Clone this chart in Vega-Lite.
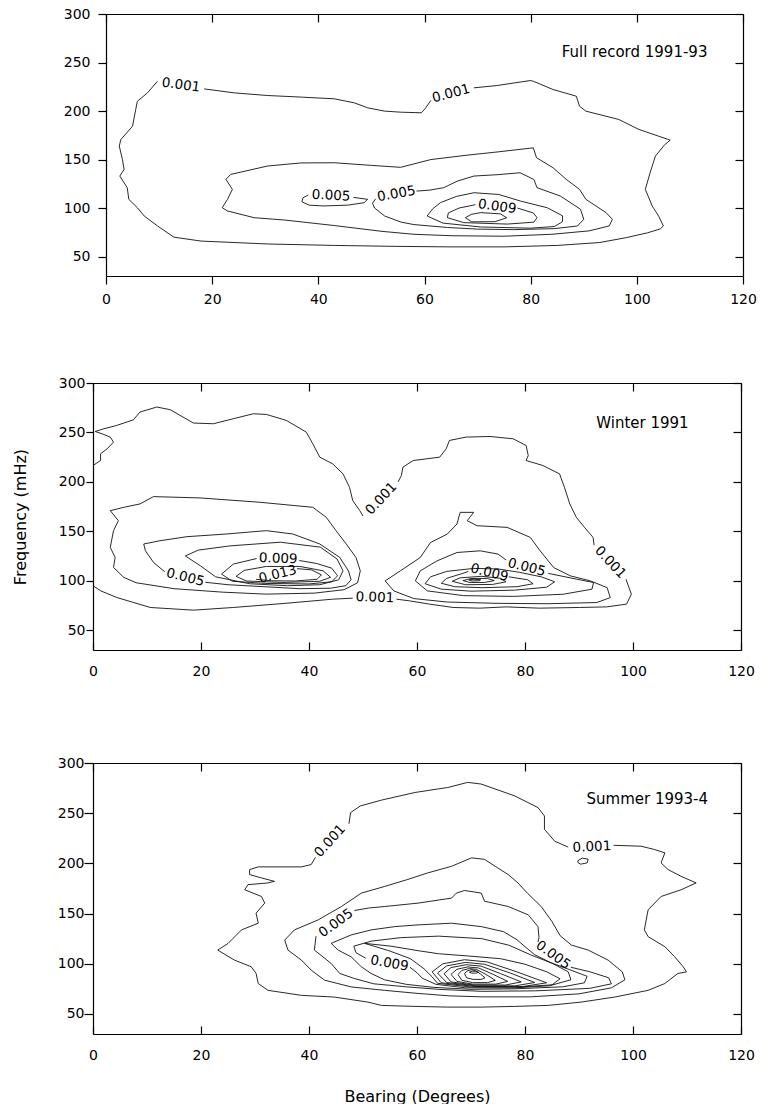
{
"$schema":"https://vega.github.io/schema/vega-lite/v6.json",
"padding":{"left":12,"top":7,"right":0,"bottom":0},
"spacing":70,
"config":{"view":{"stroke":null},"font":"DejaVu Sans",
"axis":{"domainColor":"#000","tickColor":"#000","labelColor":"#000","titleColor":"#000","domainWidth":1.2,"tickWidth":1.2,"labelFont":"DejaVu Sans","labelFontSize":14,"titleFont":"DejaVu Sans","titleFontSize":16,"titleFontWeight":"normal","grid":false,"labelFlush":false,"labelOverlap":false},
"text":{"font":"DejaVu Sans","fontSize":13.5,"color":"#000"}},
"datasets":{
"h":[{"p":1,"t":"Full record 1991-93","x":113.3,"y":261},{"p":2,"t":"Winter 1991","x":110.3,"y":259.6},{"p":3,"t":"Summer 1993-4","x":113.9,"y":263.9}],
"l":[
{"k":"1a","p":1,"t":"0.001","x":14.1,"y":226.7},{"k":"1b","p":1,"t":"0.001","x":65,"y":218},{"k":"1c","p":1,"t":"0.005","x":42.4,"y":112.8},{"k":"1d","p":1,"t":"0.005","x":54.7,"y":114.5},{"k":"1e","p":1,"t":"0.009","x":73.7,"y":101.5},
{"k":"2a","p":2,"t":"0.001","x":53.4,"y":183},{"k":"2b","p":2,"t":"0.001","x":95.8,"y":118.5},{"k":"2c","p":2,"t":"0.001","x":52.2,"y":83},{"k":"2d","p":2,"t":"0.005","x":17.1,"y":103.3},{"k":"2e","p":2,"t":"0.009","x":34.3,"y":122.3},{"k":"2f","p":2,"t":"0.013","x":34.2,"y":106.5},{"k":"2g","p":2,"t":"0.005","x":80.3,"y":113.5},{"k":"2h","p":2,"t":"0.009","x":73.4,"y":108},
{"k":"3a","p":3,"t":"0.001","x":43.9,"y":222.3},{"k":"3b","p":3,"t":"0.001","x":92.4,"y":216.3},{"k":"3c","p":3,"t":"0.005","x":45,"y":140.4},{"k":"3d","p":3,"t":"0.005","x":85.2,"y":108.6},{"k":"3e","p":3,"t":"0.009","x":54.9,"y":100.3}],
"c":[
{"p":1,"s":"1a1","x":18.5,"y":222.8},{"p":1,"s":"1a1","x":24.2,"y":218.7},{"p":1,"s":"1a1","x":30.4,"y":216},{"p":1,"s":"1a1","x":37,"y":214.3},{"p":1,"s":"1a1","x":43,"y":212.6},{"p":1,"s":"1a1","x":46.8,"y":208.4},{"p":1,"s":"1a1","x":49.3,"y":203.3},{"p":1,"s":"1a1","x":52.5,"y":199.9},{"p":1,"s":"1a1","x":55.6,"y":198.8},{"p":1,"s":"1a1","x":59.4,"y":198.2},{"p":1,"s":"1a1","x":60.2,"y":203},{"p":1,"s":"1a1","x":61.2,"y":211},
{"p":1,"s":"1a2","x":69.3,"y":223.9},{"p":1,"s":"1a2","x":73.7,"y":226.3},{"p":1,"s":"1a2","x":79.9,"y":231.4},{"p":1,"s":"1a2","x":80.5,"y":230.7},{"p":1,"s":"1a2","x":84.2,"y":222.2},{"p":1,"s":"1a2","x":88.6,"y":215.3},{"p":1,"s":"1a2","x":89.2,"y":205},{"p":1,"s":"1a2","x":90.4,"y":199.9},{"p":1,"s":"1a2","x":96.6,"y":191.3},{"p":1,"s":"1a2","x":100.4,"y":181},{"p":1,"s":"1a2","x":104.1,"y":174.1},{"p":1,"s":"1a2","x":106.3,"y":170},{"p":1,"s":"1a2","x":105.3,"y":165.6},{"p":1,"s":"1a2","x":103.5,"y":153.6},{"p":1,"s":"1a2","x":102.5,"y":136.4},{"p":1,"s":"1a2","x":101.6,"y":119.3},{"p":1,"s":"1a2","x":102.9,"y":102.1},{"p":1,"s":"1a2","x":104.1,"y":91.8},{"p":1,"s":"1a2","x":105,"y":81.6},{"p":1,"s":"1a2","x":104.4,"y":78.5},{"p":1,"s":"1a2","x":102,"y":74.5},{"p":1,"s":"1a2","x":98,"y":69.5},{"p":1,"s":"1a2","x":93,"y":64.5},{"p":1,"s":"1a2","x":85,"y":61.5},{"p":1,"s":"1a2","x":75,"y":60},{"p":1,"s":"1a2","x":65,"y":60},{"p":1,"s":"1a2","x":55,"y":60.5},{"p":1,"s":"1a2","x":43,"y":61.5},{"p":1,"s":"1a2","x":30.4,"y":63},{"p":1,"s":"1a2","x":17.9,"y":66},{"p":1,"s":"1a2","x":12.8,"y":70},{"p":1,"s":"1a2","x":9.7,"y":81.6},{"p":1,"s":"1a2","x":7.2,"y":91.8},{"p":1,"s":"1a2","x":5.9,"y":100.4},{"p":1,"s":"1a2","x":4.3,"y":109},{"p":1,"s":"1a2","x":4,"y":121},{"p":1,"s":"1a2","x":2.6,"y":133},{"p":1,"s":"1a2","x":3.4,"y":139.8},{"p":1,"s":"1a2","x":3.1,"y":150},{"p":1,"s":"1a2","x":2.5,"y":163.9},{"p":1,"s":"1a2","x":2.8,"y":170.7},{"p":1,"s":"1a2","x":5,"y":184.4},{"p":1,"s":"1a2","x":5.6,"y":201.6},{"p":1,"s":"1a2","x":5.9,"y":210},{"p":1,"s":"1a2","x":7.8,"y":218.7},{"p":1,"s":"1a2","x":9.7,"y":230.7},
{"p":1,"s":"1b","x":22.6,"y":129.6},{"p":1,"s":"1b","x":23.5,"y":134.7},{"p":1,"s":"1b","x":30.4,"y":143.3},{"p":1,"s":"1b","x":36.7,"y":146.5},{"p":1,"s":"1b","x":43,"y":146.7},{"p":1,"s":"1b","x":50,"y":144},{"p":1,"s":"1b","x":55.5,"y":142},{"p":1,"s":"1b","x":61.2,"y":150},{"p":1,"s":"1b","x":68,"y":154.5},{"p":1,"s":"1b","x":74,"y":158},{"p":1,"s":"1b","x":80.5,"y":162.1},{"p":1,"s":"1b","x":81.1,"y":151.9},{"p":1,"s":"1b","x":84.2,"y":141.6},{"p":1,"s":"1b","x":86.7,"y":129.6},{"p":1,"s":"1b","x":89.2,"y":119.3},{"p":1,"s":"1b","x":90.4,"y":109},{"p":1,"s":"1b","x":94.2,"y":95.3},{"p":1,"s":"1b","x":95.4,"y":88.4},{"p":1,"s":"1b","x":94.8,"y":81.6},{"p":1,"s":"1b","x":91,"y":76.5},{"p":1,"s":"1b","x":84,"y":73},{"p":1,"s":"1b","x":75,"y":71},{"p":1,"s":"1b","x":65,"y":71.5},{"p":1,"s":"1b","x":58,"y":73},{"p":1,"s":"1b","x":52,"y":76},{"p":1,"s":"1b","x":43,"y":82},{"p":1,"s":"1b","x":33.6,"y":87.7},{"p":1,"s":"1b","x":27.9,"y":90.1},{"p":1,"s":"1b","x":22.9,"y":97},{"p":1,"s":"1b","x":21.9,"y":100.4},{"p":1,"s":"1b","x":22.9,"y":109.1},{"p":1,"s":"1b","x":23.8,"y":119.3},{"p":1,"s":"1b","x":22.6,"y":129.6},
{"p":1,"s":"1c","x":46.6,"y":111},{"p":1,"s":"1c","x":49.3,"y":109},{"p":1,"s":"1c","x":48.6,"y":105.5},{"p":1,"s":"1c","x":45.5,"y":103},{"p":1,"s":"1c","x":41,"y":102.2},{"p":1,"s":"1c","x":38.3,"y":103},{"p":1,"s":"1c","x":36.9,"y":106.5},{"p":1,"s":"1c","x":37.1,"y":110.5},{"p":1,"s":"1c","x":38.1,"y":113.5},
{"p":1,"s":"1d","x":58.5,"y":117.5},{"p":1,"s":"1d","x":61,"y":118.5},{"p":1,"s":"1d","x":63.6,"y":121},{"p":1,"s":"1d","x":66.2,"y":127.8},{"p":1,"s":"1d","x":69.3,"y":133},{"p":1,"s":"1d","x":74,"y":134.5},{"p":1,"s":"1d","x":78,"y":136.4},{"p":1,"s":"1d","x":80.6,"y":129.5},{"p":1,"s":"1d","x":81.2,"y":121},{"p":1,"s":"1d","x":85.6,"y":112.4},{"p":1,"s":"1d","x":89.4,"y":98.7},{"p":1,"s":"1d","x":90,"y":88.4},{"p":1,"s":"1d","x":88.8,"y":81.5},{"p":1,"s":"1d","x":84.4,"y":78.8},{"p":1,"s":"1d","x":76.8,"y":77.8},{"p":1,"s":"1d","x":70,"y":78.3},{"p":1,"s":"1d","x":64.3,"y":80},{"p":1,"s":"1d","x":58,"y":83},{"p":1,"s":"1d","x":55.6,"y":85.5},{"p":1,"s":"1d","x":52.5,"y":91.8},{"p":1,"s":"1d","x":50.6,"y":100},{"p":1,"s":"1d","x":50.2,"y":105},{"p":1,"s":"1d","x":50.8,"y":109.5},
{"p":1,"s":"1e","x":60.5,"y":91.8},{"p":1,"s":"1e","x":61.5,"y":99},{"p":1,"s":"1e","x":63,"y":105.6},{"p":1,"s":"1e","x":66,"y":112},{"p":1,"s":"1e","x":69.3,"y":115.8},{"p":1,"s":"1e","x":74,"y":114},{"p":1,"s":"1e","x":78.1,"y":107.2},{"p":1,"s":"1e","x":83.1,"y":100.4},{"p":1,"s":"1e","x":86,"y":92},{"p":1,"s":"1e","x":86,"y":86},{"p":1,"s":"1e","x":84.5,"y":81},{"p":1,"s":"1e","x":80,"y":79.3},{"p":1,"s":"1e","x":70.6,"y":80.5},{"p":1,"s":"1e","x":63.5,"y":84.5},{"p":1,"s":"1e","x":60.5,"y":91.8},
{"p":1,"s":"1f","x":77.5,"y":100},{"p":1,"s":"1f","x":80.5,"y":95},{"p":1,"s":"1f","x":81.2,"y":90.1},{"p":1,"s":"1f","x":80.6,"y":85.5},{"p":1,"s":"1f","x":75.6,"y":83.5},{"p":1,"s":"1f","x":67.4,"y":85},{"p":1,"s":"1f","x":64.3,"y":90.1},{"p":1,"s":"1f","x":64.5,"y":95},{"p":1,"s":"1f","x":66.5,"y":100},{"p":1,"s":"1f","x":69.6,"y":103.5},
{"p":1,"s":"1g","x":67.7,"y":90.1},{"p":1,"s":"1g","x":68.8,"y":93.5},{"p":1,"s":"1g","x":70.6,"y":95.3},{"p":1,"s":"1g","x":74.3,"y":94},{"p":1,"s":"1g","x":75.5,"y":90},{"p":1,"s":"1g","x":73.3,"y":86},{"p":1,"s":"1g","x":68.9,"y":85.8},{"p":1,"s":"1g","x":67.7,"y":90.1},
{"p":2,"s":"2a1","x":0,"y":216.6},{"p":2,"s":"2a1","x":1.4,"y":221.6},{"p":2,"s":"2a1","x":1.4,"y":228.4},{"p":2,"s":"2a1","x":2.6,"y":233.4},{"p":2,"s":"2a1","x":3.8,"y":240.2},{"p":2,"s":"2a1","x":3.2,"y":245.3},{"p":2,"s":"2a1","x":1.7,"y":248.6},{"p":2,"s":"2a1","x":0.4,"y":251},{"p":2,"s":"2a1","x":2,"y":253.7},{"p":2,"s":"2a1","x":4.4,"y":257.1},{"p":2,"s":"2a1","x":7.5,"y":262.8},{"p":2,"s":"2a1","x":8.7,"y":270.6},{"p":2,"s":"2a1","x":11.8,"y":275.7},{"p":2,"s":"2a1","x":14.3,"y":273},{"p":2,"s":"2a1","x":18.6,"y":259.5},{"p":2,"s":"2a1","x":22.3,"y":258.8},{"p":2,"s":"2a1","x":26,"y":263.9},{"p":2,"s":"2a1","x":29.7,"y":268.9},{"p":2,"s":"2a1","x":32.1,"y":268.2},{"p":2,"s":"2a1","x":35.8,"y":262.2},{"p":2,"s":"2a1","x":39.5,"y":250.3},{"p":2,"s":"2a1","x":40.7,"y":238.5},{"p":2,"s":"2a1","x":42,"y":225},{"p":2,"s":"2a1","x":44.4,"y":218.2},{"p":2,"s":"2a1","x":46.3,"y":208.1},{"p":2,"s":"2a1","x":47.5,"y":194.6},{"p":2,"s":"2a1","x":48.1,"y":181.1},{"p":2,"s":"2a1","x":49.4,"y":171},{"p":2,"s":"2a1","x":50,"y":165.5},
{"p":2,"s":"2a2","x":56.5,"y":200},{"p":2,"s":"2a2","x":57.1,"y":206.4},{"p":2,"s":"2a2","x":57.4,"y":214.9},{"p":2,"s":"2a2","x":59.3,"y":221.6},{"p":2,"s":"2a2","x":64.2,"y":225},{"p":2,"s":"2a2","x":65.4,"y":233.4},{"p":2,"s":"2a2","x":66,"y":241.9},{"p":2,"s":"2a2","x":69.1,"y":245.3},{"p":2,"s":"2a2","x":73.5,"y":245.9},{"p":2,"s":"2a2","x":77.8,"y":243.6},{"p":2,"s":"2a2","x":80.2,"y":236.8},{"p":2,"s":"2a2","x":80.6,"y":226.7},{"p":2,"s":"2a2","x":80.2,"y":221.6},{"p":2,"s":"2a2","x":83.3,"y":216.6},{"p":2,"s":"2a2","x":86.4,"y":208.1},{"p":2,"s":"2a2","x":87.3,"y":194.6},{"p":2,"s":"2a2","x":88.3,"y":177.7},{"p":2,"s":"2a2","x":89.5,"y":164.2},{"p":2,"s":"2a2","x":91,"y":154.1},{"p":2,"s":"2a2","x":92.6,"y":143.9},{"p":2,"s":"2a2","x":92.8,"y":136},
{"p":2,"s":"2a3","x":98.7,"y":101.5},{"p":2,"s":"2a3","x":99.7,"y":86.5},{"p":2,"s":"2a3","x":98.8,"y":76.4},{"p":2,"s":"2a3","x":95.1,"y":73.6},{"p":2,"s":"2a3","x":90.1,"y":73},{"p":2,"s":"2a3","x":82.7,"y":72.3},{"p":2,"s":"2a3","x":76.5,"y":73.6},{"p":2,"s":"2a3","x":71.6,"y":72.3},{"p":2,"s":"2a3","x":66.7,"y":73},{"p":2,"s":"2a3","x":62.3,"y":76.4},{"p":2,"s":"2a3","x":58.6,"y":79.7},{"p":2,"s":"2a3","x":56.2,"y":81.4},
{"p":2,"s":"2a4","x":48.1,"y":82.4},{"p":2,"s":"2a4","x":44.4,"y":81.4},{"p":2,"s":"2a4","x":35.2,"y":77},{"p":2,"s":"2a4","x":26,"y":73},{"p":2,"s":"2a4","x":18.6,"y":70.3},{"p":2,"s":"2a4","x":10.6,"y":73},{"p":2,"s":"2a4","x":4.4,"y":83.1},{"p":2,"s":"2a4","x":1.4,"y":89.9},{"p":2,"s":"2a4","x":0,"y":95},
{"p":2,"s":"2b","x":3.2,"y":170.9},{"p":2,"s":"2b","x":5.7,"y":174.3},{"p":2,"s":"2b","x":8.7,"y":177.7},{"p":2,"s":"2b","x":11.2,"y":185.1},{"p":2,"s":"2b","x":19.8,"y":183.8},{"p":2,"s":"2b","x":30.9,"y":179.4},{"p":2,"s":"2b","x":40.7,"y":174.3},{"p":2,"s":"2b","x":43.2,"y":164.2},{"p":2,"s":"2b","x":45,"y":150.7},{"p":2,"s":"2b","x":46.9,"y":137.2},{"p":2,"s":"2b","x":48.7,"y":123.6},{"p":2,"s":"2b","x":49.5,"y":110},{"p":2,"s":"2b","x":49,"y":98},{"p":2,"s":"2b","x":46.5,"y":91},{"p":2,"s":"2b","x":41,"y":87.5},{"p":2,"s":"2b","x":32,"y":86.5},{"p":2,"s":"2b","x":24,"y":88.5},{"p":2,"s":"2b","x":15,"y":92},{"p":2,"s":"2b","x":8,"y":98},{"p":2,"s":"2b","x":5.7,"y":103.4},{"p":2,"s":"2b","x":3.8,"y":113.5},{"p":2,"s":"2b","x":4.1,"y":123.6},{"p":2,"s":"2b","x":3.2,"y":133.8},{"p":2,"s":"2b","x":3.8,"y":150.7},{"p":2,"s":"2b","x":4.7,"y":160.8},{"p":2,"s":"2b","x":3.2,"y":170.9},
{"p":2,"s":"2c","x":20.8,"y":98.5},{"p":2,"s":"2c","x":25,"y":96},{"p":2,"s":"2c","x":30,"y":94.5},{"p":2,"s":"2c","x":38.3,"y":92},{"p":2,"s":"2c","x":44,"y":92.5},{"p":2,"s":"2c","x":46.8,"y":95},{"p":2,"s":"2c","x":47.8,"y":101},{"p":2,"s":"2c","x":47.3,"y":110.1},{"p":2,"s":"2c","x":45.7,"y":123.6},{"p":2,"s":"2c","x":42,"y":137.2},{"p":2,"s":"2c","x":37,"y":147.3},{"p":2,"s":"2c","x":32.1,"y":150.7},{"p":2,"s":"2c","x":24.7,"y":147.3},{"p":2,"s":"2c","x":17.4,"y":144.6},{"p":2,"s":"2c","x":12.4,"y":140.5},{"p":2,"s":"2c","x":9.4,"y":137.2},{"p":2,"s":"2c","x":9.7,"y":130.4},{"p":2,"s":"2c","x":11.2,"y":118.6},{"p":2,"s":"2c","x":13.3,"y":109},
{"p":2,"s":"2d","x":17.1,"y":125.1},{"p":2,"s":"2d","x":19.5,"y":131},{"p":2,"s":"2d","x":25.4,"y":135.3},{"p":2,"s":"2d","x":34.7,"y":139},{"p":2,"s":"2d","x":42.1,"y":134},{"p":2,"s":"2d","x":45.2,"y":122},{"p":2,"s":"2d","x":46.3,"y":110},{"p":2,"s":"2d","x":45.5,"y":101},{"p":2,"s":"2d","x":42,"y":96},{"p":2,"s":"2d","x":36,"y":95},{"p":2,"s":"2d","x":29,"y":97},{"p":2,"s":"2d","x":22.7,"y":104},{"p":2,"s":"2d","x":19.9,"y":115.1},{"p":2,"s":"2d","x":17.1,"y":125.1},
{"p":2,"s":"2e","x":38.2,"y":120.5},{"p":2,"s":"2e","x":41.4,"y":117.5},{"p":2,"s":"2e","x":44.2,"y":112.8},{"p":2,"s":"2e","x":45.3,"y":105},{"p":2,"s":"2e","x":44.2,"y":99},{"p":2,"s":"2e","x":40,"y":96.8},{"p":2,"s":"2e","x":32,"y":97.3},{"p":2,"s":"2e","x":25.8,"y":99.5},{"p":2,"s":"2e","x":23.8,"y":106.8},{"p":2,"s":"2e","x":26,"y":116.9},{"p":2,"s":"2e","x":30.3,"y":122.5},
{"p":2,"s":"2f","x":26.5,"y":104.5},{"p":2,"s":"2f","x":28,"y":110.5},{"p":2,"s":"2f","x":32.1,"y":114.5},{"p":2,"s":"2f","x":38.3,"y":114.5},{"p":2,"s":"2f","x":42.6,"y":110.1},{"p":2,"s":"2f","x":44,"y":103.5},{"p":2,"s":"2f","x":42,"y":99.5},{"p":2,"s":"2f","x":35.2,"y":98.3},{"p":2,"s":"2f","x":28.4,"y":99.8},{"p":2,"s":"2f","x":26.5,"y":104.5},
{"p":2,"s":"2g","x":37.8,"y":112.3},{"p":2,"s":"2g","x":40.5,"y":111},{"p":2,"s":"2g","x":42.3,"y":106},{"p":2,"s":"2g","x":41.5,"y":101.5},{"p":2,"s":"2g","x":37.5,"y":99.8},{"p":2,"s":"2g","x":33,"y":100},{"p":2,"s":"2g","x":30.2,"y":101.5},
{"p":2,"s":"2i","x":54.1,"y":99.9},{"p":2,"s":"2i","x":56.9,"y":110},{"p":2,"s":"2i","x":60.6,"y":123.5},{"p":2,"s":"2i","x":62.5,"y":138.7},{"p":2,"s":"2i","x":65.6,"y":147.2},{"p":2,"s":"2i","x":67.4,"y":157.4},{"p":2,"s":"2i","x":68,"y":169.2},{"p":2,"s":"2i","x":70.5,"y":169.2},{"p":2,"s":"2i","x":69.3,"y":160.8},{"p":2,"s":"2i","x":71.1,"y":155.7},{"p":2,"s":"2i","x":76.7,"y":154},{"p":2,"s":"2i","x":81,"y":143.8},{"p":2,"s":"2i","x":82.8,"y":130.3},{"p":2,"s":"2i","x":85.3,"y":113.4},{"p":2,"s":"2i","x":88.4,"y":105},{"p":2,"s":"2i","x":92.1,"y":99.9},{"p":2,"s":"2i","x":95.2,"y":93.1},{"p":2,"s":"2i","x":95.8,"y":83},{"p":2,"s":"2i","x":93.3,"y":78},{"p":2,"s":"2i","x":84.1,"y":76.8},{"p":2,"s":"2i","x":74.8,"y":77.2},{"p":2,"s":"2i","x":65.6,"y":78.5},{"p":2,"s":"2i","x":59.4,"y":82},{"p":2,"s":"2i","x":55.7,"y":89.8},{"p":2,"s":"2i","x":54.1,"y":99.9},
{"p":2,"s":"2j","x":84.3,"y":107.5},{"p":2,"s":"2j","x":89.6,"y":101.6},{"p":2,"s":"2j","x":92.7,"y":98.2},{"p":2,"s":"2j","x":92.4,"y":91.5},{"p":2,"s":"2j","x":87.1,"y":86.4},{"p":2,"s":"2j","x":77.9,"y":84.2},{"p":2,"s":"2j","x":68.6,"y":85},{"p":2,"s":"2j","x":61.9,"y":89.8},{"p":2,"s":"2j","x":59.7,"y":99.9},{"p":2,"s":"2j","x":60.6,"y":110},{"p":2,"s":"2j","x":63.7,"y":120.1},{"p":2,"s":"2j","x":67.4,"y":128.6},{"p":2,"s":"2j","x":71.7,"y":130.3},{"p":2,"s":"2j","x":75,"y":127},{"p":2,"s":"2j","x":76.5,"y":121},
{"p":2,"s":"2k","x":61.5,"y":97},{"p":2,"s":"2k","x":62.5,"y":104},{"p":2,"s":"2k","x":65.5,"y":109.5},{"p":2,"s":"2k","x":70.5,"y":112.5},{"p":2,"s":"2k","x":75,"y":112},{"p":2,"s":"2k","x":79,"y":108.5},{"p":2,"s":"2k","x":83,"y":104},{"p":2,"s":"2k","x":85.5,"y":99},{"p":2,"s":"2k","x":84,"y":93.5},{"p":2,"s":"2k","x":78,"y":90.5},{"p":2,"s":"2k","x":70,"y":89.5},{"p":2,"s":"2k","x":64.5,"y":91.5},{"p":2,"s":"2k","x":61.5,"y":97},
{"p":2,"s":"2l","x":77,"y":104},{"p":2,"s":"2l","x":80.5,"y":101},{"p":2,"s":"2l","x":81.5,"y":97},{"p":2,"s":"2l","x":78.5,"y":94},{"p":2,"s":"2l","x":72,"y":93},{"p":2,"s":"2l","x":67,"y":94},{"p":2,"s":"2l","x":64.5,"y":97.5},{"p":2,"s":"2l","x":65.5,"y":102.5},{"p":2,"s":"2l","x":68.5,"y":107.5},{"p":2,"s":"2l","x":69.5,"y":109.5},
{"p":2,"s":"2m","x":66.5,"y":99.5},{"p":2,"s":"2m","x":68,"y":103},{"p":2,"s":"2m","x":72,"y":104.5},{"p":2,"s":"2m","x":75.5,"y":102.5},{"p":2,"s":"2m","x":76.5,"y":99},{"p":2,"s":"2m","x":74,"y":96.3},{"p":2,"s":"2m","x":69,"y":96},{"p":2,"s":"2m","x":66.5,"y":99.5},
{"p":2,"s":"2n","x":68.5,"y":100.2},{"p":2,"s":"2n","x":70,"y":102.3},{"p":2,"s":"2n","x":73,"y":102.4},{"p":2,"s":"2n","x":74.3,"y":100.2},{"p":2,"s":"2n","x":72.5,"y":98.3},{"p":2,"s":"2n","x":69.8,"y":98.3},{"p":2,"s":"2n","x":68.5,"y":100.2},
{"p":2,"s":"2o","x":69.6,"y":100.8},{"p":2,"s":"2o","x":70.5,"y":101.5},{"p":2,"s":"2o","x":71.8,"y":101.1},{"p":2,"s":"2o","x":71.5,"y":100},{"p":2,"s":"2o","x":70.2,"y":99.8},{"p":2,"s":"2o","x":69.6,"y":100.8},
{"p":3,"s":"3a1","x":47.4,"y":239.5},{"p":3,"s":"3a1","x":47.7,"y":250.6},{"p":3,"s":"3a1","x":49.5,"y":257.2},{"p":3,"s":"3a1","x":53.4,"y":263},{"p":3,"s":"3a1","x":59.6,"y":270.6},{"p":3,"s":"3a1","x":65.7,"y":275.6},{"p":3,"s":"3a1","x":69.4,"y":280.7},{"p":3,"s":"3a1","x":71.9,"y":279},{"p":3,"s":"3a1","x":78.1,"y":267.2},{"p":3,"s":"3a1","x":82.4,"y":255.6},{"p":3,"s":"3a1","x":83.6,"y":247.2},{"p":3,"s":"3a1","x":83.6,"y":233.9},{"p":3,"s":"3a1","x":85.5,"y":222.1},{"p":3,"s":"3a1","x":88,"y":216.2},
{"p":3,"s":"3a2","x":96.4,"y":218},{"p":3,"s":"3a2","x":101.5,"y":217.1},{"p":3,"s":"3a2","x":104,"y":213.8},{"p":3,"s":"3a2","x":105.9,"y":210.5},{"p":3,"s":"3a2","x":105.2,"y":200.5},{"p":3,"s":"3a2","x":106.5,"y":193.8},{"p":3,"s":"3a2","x":108.9,"y":187.1},{"p":3,"s":"3a2","x":111.7,"y":180.5},{"p":3,"s":"3a2","x":108.9,"y":173.7},{"p":3,"s":"3a2","x":105.2,"y":167},{"p":3,"s":"3a2","x":102.8,"y":153.7},{"p":3,"s":"3a2","x":102.1,"y":133.7},{"p":3,"s":"3a2","x":102.8,"y":127},{"p":3,"s":"3a2","x":105.9,"y":117},{"p":3,"s":"3a2","x":107.7,"y":107},{"p":3,"s":"3a2","x":109.3,"y":97},{"p":3,"s":"3a2","x":109.9,"y":91.9},{"p":3,"s":"3a2","x":108.3,"y":90.3},{"p":3,"s":"3a2","x":105.9,"y":80.3},{"p":3,"s":"3a2","x":102.8,"y":73.5},{"p":3,"s":"3a2","x":96.6,"y":66.8},{"p":3,"s":"3a2","x":90.4,"y":61.8},{"p":3,"s":"3a2","x":84.3,"y":58.5},{"p":3,"s":"3a2","x":78.1,"y":57.5},{"p":3,"s":"3a2","x":71.9,"y":56.8},{"p":3,"s":"3a2","x":65.7,"y":56.8},{"p":3,"s":"3a2","x":59.6,"y":57.5},{"p":3,"s":"3a2","x":53.4,"y":58.5},{"p":3,"s":"3a2","x":50.9,"y":61.8},{"p":3,"s":"3a2","x":44.7,"y":66.8},{"p":3,"s":"3a2","x":38.6,"y":68.5},{"p":3,"s":"3a2","x":32.4,"y":73.5},{"p":3,"s":"3a2","x":30.6,"y":80.3},{"p":3,"s":"3a2","x":30.2,"y":90.3},{"p":3,"s":"3a2","x":29.3,"y":97},{"p":3,"s":"3a2","x":26.2,"y":103.6},{"p":3,"s":"3a2","x":23.1,"y":113.6},{"p":3,"s":"3a2","x":25,"y":120.2},{"p":3,"s":"3a2","x":27.5,"y":133.7},{"p":3,"s":"3a2","x":30.6,"y":140.4},{"p":3,"s":"3a2","x":30.2,"y":150.4},{"p":3,"s":"3a2","x":31.8,"y":160.4},{"p":3,"s":"3a2","x":31.2,"y":167},{"p":3,"s":"3a2","x":28.1,"y":173.7},{"p":3,"s":"3a2","x":28.7,"y":178.8},{"p":3,"s":"3a2","x":32.4,"y":180.5},{"p":3,"s":"3a2","x":33.6,"y":182.1},{"p":3,"s":"3a2","x":31.2,"y":185.5},{"p":3,"s":"3a2","x":29,"y":188.8},{"p":3,"s":"3a2","x":29,"y":193.8},{"p":3,"s":"3a2","x":30.6,"y":196.5},{"p":3,"s":"3a2","x":38.6,"y":196.5},{"p":3,"s":"3a2","x":40.4,"y":198.8},{"p":3,"s":"3a2","x":41.2,"y":206},
{"p":3,"s":"3t","x":89.8,"y":202.8},{"p":3,"s":"3t","x":90.6,"y":205.2},{"p":3,"s":"3t","x":91.7,"y":204.2},{"p":3,"s":"3t","x":91.5,"y":200.5},{"p":3,"s":"3t","x":90.3,"y":199.2},{"p":3,"s":"3t","x":89.8,"y":200.8},{"p":3,"s":"3t","x":89.8,"y":202.8},
{"p":3,"s":"3b","x":72.5,"y":204},{"p":3,"s":"3b","x":70.1,"y":205.5},{"p":3,"s":"3b","x":66.4,"y":197.1},{"p":3,"s":"3b","x":62,"y":190.5},{"p":3,"s":"3b","x":58.3,"y":184},{"p":3,"s":"3b","x":54,"y":177},{"p":3,"s":"3b","x":49.7,"y":170.4},{"p":3,"s":"3b","x":46,"y":157},{"p":3,"s":"3b","x":41.7,"y":143.7},{"p":3,"s":"3b","x":37.3,"y":133.7},{"p":3,"s":"3b","x":35.5,"y":123.6},{"p":3,"s":"3b","x":36.1,"y":113.6},{"p":3,"s":"3b","x":38.6,"y":103.6},{"p":3,"s":"3b","x":40.4,"y":93.6},{"p":3,"s":"3b","x":42.9,"y":83.6},{"p":3,"s":"3b","x":47.8,"y":76.9},{"p":3,"s":"3b","x":54,"y":73.5},{"p":3,"s":"3b","x":60,"y":70.5},{"p":3,"s":"3b","x":66,"y":68},{"p":3,"s":"3b","x":72,"y":67},{"p":3,"s":"3b","x":81,"y":67},{"p":3,"s":"3b","x":90,"y":70},{"p":3,"s":"3b","x":96,"y":76},{"p":3,"s":"3b","x":98.5,"y":84},{"p":3,"s":"3b","x":98,"y":92},{"p":3,"s":"3b","x":95.4,"y":103.6},{"p":3,"s":"3b","x":91.7,"y":113.6},{"p":3,"s":"3b","x":88.6,"y":118.6},{"p":3,"s":"3b","x":86.5,"y":128},{"p":3,"s":"3b","x":85,"y":142},{"p":3,"s":"3b","x":83,"y":157},{"p":3,"s":"3b","x":80.5,"y":170},{"p":3,"s":"3b","x":78.7,"y":180.5},{"p":3,"s":"3b","x":76.9,"y":188.8},{"p":3,"s":"3b","x":74.5,"y":197},{"p":3,"s":"3b","x":72.5,"y":204},
{"p":3,"s":"3c1","x":48.4,"y":153},{"p":3,"s":"3c1","x":51,"y":155.5},{"p":3,"s":"3c1","x":54,"y":157},{"p":3,"s":"3c1","x":60.2,"y":160.4},{"p":3,"s":"3c1","x":66.4,"y":165.4},{"p":3,"s":"3c1","x":67.3,"y":170.4},{"p":3,"s":"3c1","x":68.8,"y":173},{"p":3,"s":"3c1","x":71.9,"y":170.4},{"p":3,"s":"3c1","x":72.5,"y":162.3},{"p":3,"s":"3c1","x":76.9,"y":157},{"p":3,"s":"3c1","x":80.6,"y":148.7},{"p":3,"s":"3c1","x":82.4,"y":137},{"p":3,"s":"3c1","x":82.6,"y":126},{"p":3,"s":"3c1","x":82.4,"y":121.5},
{"p":3,"s":"3c2","x":88.5,"y":96.5},{"p":3,"s":"3c2","x":92,"y":92},{"p":3,"s":"3c2","x":95.5,"y":86},{"p":3,"s":"3c2","x":96,"y":80},{"p":3,"s":"3c2","x":92,"y":75.5},{"p":3,"s":"3c2","x":82,"y":73},{"p":3,"s":"3c2","x":72,"y":72.5},{"p":3,"s":"3c2","x":64,"y":74.5},{"p":3,"s":"3c2","x":58,"y":77},{"p":3,"s":"3c2","x":52,"y":80},{"p":3,"s":"3c2","x":48.4,"y":85.3},{"p":3,"s":"3c2","x":45.7,"y":90.3},{"p":3,"s":"3c2","x":44.1,"y":100.3},{"p":3,"s":"3c2","x":41,"y":113.6},{"p":3,"s":"3c2","x":41.3,"y":127.5},
{"p":3,"s":"3d","x":44.1,"y":120.3},{"p":3,"s":"3d","x":47.8,"y":128.7},{"p":3,"s":"3d","x":51.5,"y":133.7},{"p":3,"s":"3d","x":55.9,"y":137},{"p":3,"s":"3d","x":60.2,"y":138.7},{"p":3,"s":"3d","x":66.4,"y":140.4},{"p":3,"s":"3d","x":71.9,"y":137},{"p":3,"s":"3d","x":76,"y":132},{"p":3,"s":"3d","x":78.5,"y":124},{"p":3,"s":"3d","x":80,"y":117},{"p":3,"s":"3d","x":81.8,"y":109},{"p":3,"s":"3d","x":84.8,"y":101},{"p":3,"s":"3d","x":88.3,"y":94},{"p":3,"s":"3d","x":91.5,"y":87.5},{"p":3,"s":"3d","x":91,"y":81},{"p":3,"s":"3d","x":87,"y":77},{"p":3,"s":"3d","x":78,"y":75},{"p":3,"s":"3d","x":70,"y":74.5},{"p":3,"s":"3d","x":63,"y":76.5},{"p":3,"s":"3d","x":58,"y":79.5},{"p":3,"s":"3d","x":54,"y":84},{"p":3,"s":"3d","x":51.5,"y":90.3},{"p":3,"s":"3d","x":49.7,"y":96.9},{"p":3,"s":"3d","x":47.8,"y":106.9},{"p":3,"s":"3d","x":45.4,"y":113.6},{"p":3,"s":"3d","x":44.1,"y":120.3},
{"p":3,"s":"3e","x":58.7,"y":96.5},{"p":3,"s":"3e","x":60,"y":91},{"p":3,"s":"3e","x":61,"y":85.5},{"p":3,"s":"3e","x":63.5,"y":79.5},{"p":3,"s":"3e","x":69,"y":76},{"p":3,"s":"3e","x":78,"y":76},{"p":3,"s":"3e","x":84.5,"y":78},{"p":3,"s":"3e","x":88.5,"y":84},{"p":3,"s":"3e","x":88,"y":92},{"p":3,"s":"3e","x":85,"y":100.5},{"p":3,"s":"3e","x":81,"y":109},{"p":3,"s":"3e","x":77,"y":118.5},{"p":3,"s":"3e","x":72,"y":125},{"p":3,"s":"3e","x":64,"y":127.5},{"p":3,"s":"3e","x":57,"y":126},{"p":3,"s":"3e","x":51.5,"y":122.5},{"p":3,"s":"3e","x":48.3,"y":117.5},{"p":3,"s":"3e","x":48.7,"y":111},{"p":3,"s":"3e","x":50.5,"y":105.5},
{"p":3,"s":"3f","x":50.3,"y":120.3},{"p":3,"s":"3f","x":55.2,"y":117.5},{"p":3,"s":"3f","x":60.2,"y":113},{"p":3,"s":"3f","x":64,"y":110},{"p":3,"s":"3f","x":70,"y":107.5},{"p":3,"s":"3f","x":75.5,"y":105},{"p":3,"s":"3f","x":80,"y":99.5},{"p":3,"s":"3f","x":84,"y":92},{"p":3,"s":"3f","x":86.5,"y":85},{"p":3,"s":"3f","x":85,"y":79},{"p":3,"s":"3f","x":79,"y":76.8},{"p":3,"s":"3f","x":70,"y":76.8},{"p":3,"s":"3f","x":63.8,"y":80.5},{"p":3,"s":"3f","x":62.8,"y":87},{"p":3,"s":"3f","x":61.3,"y":95},{"p":3,"s":"3f","x":58.8,"y":105},{"p":3,"s":"3f","x":54.8,"y":113},{"p":3,"s":"3f","x":50.3,"y":120.3},
{"p":3,"s":"3r6","x":62.8,"y":91.9},{"p":3,"s":"3r6","x":64.8,"y":100},{"p":3,"s":"3r6","x":68.8,"y":104},{"p":3,"s":"3r6","x":73,"y":101.8},{"p":3,"s":"3r6","x":78.5,"y":91.9},{"p":3,"s":"3r6","x":84,"y":81},{"p":3,"s":"3r6","x":79.6,"y":77.3},{"p":3,"s":"3r6","x":70.8,"y":77.3},{"p":3,"s":"3r6","x":64.5,"y":81},{"p":3,"s":"3r6","x":62.8,"y":91.9},
{"p":3,"s":"3r5","x":63.8,"y":90.7},{"p":3,"s":"3r5","x":65.5,"y":97.9},{"p":3,"s":"3r5","x":69,"y":101.3},{"p":3,"s":"3r5","x":72.5,"y":99.5},{"p":3,"s":"3r5","x":77.3,"y":90.7},{"p":3,"s":"3r5","x":81.8,"y":81.3},{"p":3,"s":"3r5","x":78.2,"y":78},{"p":3,"s":"3r5","x":70.9,"y":78},{"p":3,"s":"3r5","x":65.5,"y":81.3},{"p":3,"s":"3r5","x":63.8,"y":90.7},
{"p":3,"s":"3r4","x":65,"y":90.1},{"p":3,"s":"3r4","x":66.3,"y":96.2},{"p":3,"s":"3r4","x":69.1,"y":99},{"p":3,"s":"3r4","x":71.9,"y":97.6},{"p":3,"s":"3r4","x":75.5,"y":90.1},{"p":3,"s":"3r4","x":79.3,"y":81.9},{"p":3,"s":"3r4","x":76.4,"y":78.8},{"p":3,"s":"3r4","x":70.5,"y":78.8},{"p":3,"s":"3r4","x":66.3,"y":81.9},{"p":3,"s":"3r4","x":65,"y":90.1},
{"p":3,"s":"3r3","x":66.3,"y":89.4},{"p":3,"s":"3r3","x":67.4,"y":94.5},{"p":3,"s":"3r3","x":69.4,"y":96.8},{"p":3,"s":"3r3","x":71.4,"y":95.8},{"p":3,"s":"3r3","x":74.1,"y":89.4},{"p":3,"s":"3r3","x":76.8,"y":82.4},{"p":3,"s":"3r3","x":74.6,"y":79.7},{"p":3,"s":"3r3","x":70.3,"y":79.7},{"p":3,"s":"3r3","x":67.4,"y":82.4},{"p":3,"s":"3r3","x":66.3,"y":89.4},
{"p":3,"s":"3r2","x":67.6,"y":89.3},{"p":3,"s":"3r2","x":68.3,"y":93.3},{"p":3,"s":"3r2","x":69.7,"y":95.2},{"p":3,"s":"3r2","x":71,"y":94.4},{"p":3,"s":"3r2","x":72.8,"y":89.3},{"p":3,"s":"3r2","x":74.5,"y":83.5},{"p":3,"s":"3r2","x":73.1,"y":81.2},{"p":3,"s":"3r2","x":70.3,"y":81.2},{"p":3,"s":"3r2","x":68.3,"y":83.5},{"p":3,"s":"3r2","x":67.6,"y":89.3},
{"p":3,"s":"3r1","x":68.8,"y":90},{"p":3,"s":"3r1","x":69.2,"y":92.6},{"p":3,"s":"3r1","x":70,"y":94},{"p":3,"s":"3r1","x":70.8,"y":93.3},{"p":3,"s":"3r1","x":71.7,"y":90},{"p":3,"s":"3r1","x":72.6,"y":86},{"p":3,"s":"3r1","x":71.9,"y":84.4},{"p":3,"s":"3r1","x":70.4,"y":84.4},{"p":3,"s":"3r1","x":69.2,"y":86},{"p":3,"s":"3r1","x":68.8,"y":90},
{"p":3,"s":"3r0","x":69.7,"y":91.6},{"p":3,"s":"3r0","x":70.2,"y":92.6},{"p":3,"s":"3r0","x":71,"y":92.5},{"p":3,"s":"3r0","x":71.4,"y":91.5},{"p":3,"s":"3r0","x":70.9,"y":90.6},{"p":3,"s":"3r0","x":70.1,"y":90.7},{"p":3,"s":"3r0","x":69.7,"y":91.6}
]},
"vconcat":[
{"width":650,"height":262,"resolve":{"axis":{"x":"independent","y":"independent"}},
"layer":[
{"data":{"name":"c"},"transform":[{"filter":"datum.p==1"}],"mark":{"type":"line","stroke":"#111","strokeWidth":0.9,"clip":true},
"encoding":{"x":{"field":"x","type":"quantitative","scale":{"domain":[0,120],"range":[13,650],"nice":false,"zero":false},"axis":{"orient":"bottom","values":[0,20,40,60,80,100,120],"tickSize":8,"labelPadding":8,"title":null}},
"y":{"field":"y","type":"quantitative","scale":{"domain":[30,300],"nice":false,"zero":false},"axis":{"orient":"left","values":[50,100,150,200,250,300],"tickSize":8,"labelPadding":8,"offset":-13,"title":null}},
"detail":{"field":"s","type":"nominal"},"order":{"value":null}}},
{"data":{"name":"h"},"transform":[{"filter":"datum.p==1"}],"mark":{"type":"text","align":"right","baseline":"middle","fontSize":15},
"encoding":{"x":{"field":"x","type":"quantitative","scale":{"domain":[0,120],"range":[13,650],"nice":false,"zero":false},"axis":{"orient":"top","values":[0,20,40,60,80,100,120],"tickSize":-8,"labels":false,"title":null}},
"y":{"field":"y","type":"quantitative","scale":{"domain":[30,300],"nice":false,"zero":false},"axis":{"orient":"right","values":[50,100,150,200,250,300],"tickSize":-8,"labels":false,"title":null}},"text":{"field":"t"}}},
{"data":{"name":"l"},"transform":[{"filter":{"field":"k","oneOf":["1a","1e"]}}],"mark":{"type":"text","angle":8},"encoding":{"x":{"field":"x","type":"quantitative","scale":{"domain":[0,120],"range":[13,650]},"axis":null},"y":{"field":"y","type":"quantitative","scale":{"domain":[30,300]},"axis":null},"text":{"field":"t"}}},
{"data":{"name":"l"},"transform":[{"filter":{"field":"k","oneOf":["1b"]}}],"mark":{"type":"text","angle":-15},"encoding":{"x":{"field":"x","type":"quantitative","scale":{"domain":[0,120],"range":[13,650]},"axis":null},"y":{"field":"y","type":"quantitative","scale":{"domain":[30,300]},"axis":null},"text":{"field":"t"}}},
{"data":{"name":"l"},"transform":[{"filter":{"field":"k","oneOf":["1c"]}}],"mark":{"type":"text","angle":3},"encoding":{"x":{"field":"x","type":"quantitative","scale":{"domain":[0,120],"range":[13,650]},"axis":null},"y":{"field":"y","type":"quantitative","scale":{"domain":[30,300]},"axis":null},"text":{"field":"t"}}},
{"data":{"name":"l"},"transform":[{"filter":{"field":"k","oneOf":["1d"]}}],"mark":{"type":"text","angle":-10},"encoding":{"x":{"field":"x","type":"quantitative","scale":{"domain":[0,120],"range":[13,650]},"axis":null},"y":{"field":"y","type":"quantitative","scale":{"domain":[30,300]},"axis":null},"text":{"field":"t"}}}
]},
{"spacing":78,"vconcat":[
{"width":648,"height":267,"resolve":{"axis":{"x":"independent","y":"independent"}},
"layer":[
{"data":{"name":"c"},"transform":[{"filter":"datum.p==2"}],"mark":{"type":"line","stroke":"#111","strokeWidth":0.9,"clip":true},
"encoding":{"x":{"field":"x","type":"quantitative","scale":{"domain":[0,120],"nice":false,"zero":false},"axis":{"orient":"bottom","values":[0,20,40,60,80,100,120],"tickSize":-8,"labelPadding":22,"title":null}},
"y":{"field":"y","type":"quantitative","scale":{"domain":[30,300],"nice":false,"zero":false},"axis":{"orient":"left","values":[50,100,150,200,250,300],"tickSize":7,"labelPadding":1,"title":"Frequency (mHz)","titlePadding":30}},
"detail":{"field":"s","type":"nominal"},"order":{"value":null}}},
{"data":{"name":"h"},"transform":[{"filter":"datum.p==2"}],"mark":{"type":"text","align":"right","baseline":"middle","fontSize":15},
"encoding":{"x":{"field":"x","type":"quantitative","scale":{"domain":[0,120],"nice":false,"zero":false},"axis":{"orient":"top","values":[0,20,40,60,80,100,120],"tickSize":-8,"labels":false,"title":null}},
"y":{"field":"y","type":"quantitative","scale":{"domain":[30,300],"nice":false,"zero":false},"axis":{"orient":"right","values":[50,100,150,200,250,300],"tickSize":-8,"labels":false,"title":null}},"text":{"field":"t"}}},
{"data":{"name":"l"},"transform":[{"filter":{"field":"k","oneOf":["2a"]}}],"mark":{"type":"text","angle":-47},"encoding":{"x":{"field":"x","type":"quantitative","axis":null},"y":{"field":"y","type":"quantitative","axis":null},"text":{"field":"t"}}},
{"data":{"name":"l"},"transform":[{"filter":{"field":"k","oneOf":["2b"]}}],"mark":{"type":"text","angle":47},"encoding":{"x":{"field":"x","type":"quantitative","axis":null},"y":{"field":"y","type":"quantitative","axis":null},"text":{"field":"t"}}},
{"data":{"name":"l"},"transform":[{"filter":{"field":"k","oneOf":["2c","2e"]}}],"mark":{"type":"text","angle":2},"encoding":{"x":{"field":"x","type":"quantitative","axis":null},"y":{"field":"y","type":"quantitative","axis":null},"text":{"field":"t"}}},
{"data":{"name":"l"},"transform":[{"filter":{"field":"k","oneOf":["2d","2g","2h"]}}],"mark":{"type":"text","angle":14},"encoding":{"x":{"field":"x","type":"quantitative","axis":null},"y":{"field":"y","type":"quantitative","axis":null},"text":{"field":"t"}}},
{"data":{"name":"l"},"transform":[{"filter":{"field":"k","oneOf":["2f"]}}],"mark":{"type":"text","angle":-14},"encoding":{"x":{"field":"x","type":"quantitative","axis":null},"y":{"field":"y","type":"quantitative","axis":null},"text":{"field":"t"}}}
]},
{"width":648,"height":271,"resolve":{"axis":{"x":"independent","y":"independent"}},
"layer":[
{"data":{"name":"c"},"transform":[{"filter":"datum.p==3"}],"mark":{"type":"line","stroke":"#111","strokeWidth":0.9,"clip":true},
"encoding":{"x":{"field":"x","type":"quantitative","scale":{"domain":[0,120],"nice":false,"zero":false},"axis":{"orient":"bottom","values":[0,20,40,60,80,100,120],"tickSize":-8,"labelPadding":22,"title":"Bearing (Degrees)","titlePadding":26}},
"y":{"field":"y","type":"quantitative","scale":{"domain":[30,300],"nice":false,"zero":false},"axis":{"orient":"left","values":[50,100,150,200,250,300],"tickSize":9,"labelPadding":0,"title":null}},
"detail":{"field":"s","type":"nominal"},"order":{"value":null}}},
{"data":{"name":"h"},"transform":[{"filter":"datum.p==3"}],"mark":{"type":"text","align":"right","baseline":"middle","fontSize":15},
"encoding":{"x":{"field":"x","type":"quantitative","scale":{"domain":[0,120],"nice":false,"zero":false},"axis":{"orient":"top","values":[0,20,40,60,80,100,120],"tickSize":-8,"labels":false,"title":null}},
"y":{"field":"y","type":"quantitative","scale":{"domain":[30,300],"nice":false,"zero":false},"axis":{"orient":"right","values":[50,100,150,200,250,300],"tickSize":-8,"labels":false,"title":null}},"text":{"field":"t"}}},
{"data":{"name":"l"},"transform":[{"filter":{"field":"k","oneOf":["3a"]}}],"mark":{"type":"text","angle":-48},"encoding":{"x":{"field":"x","type":"quantitative","axis":null},"y":{"field":"y","type":"quantitative","axis":null},"text":{"field":"t"}}},
{"data":{"name":"l"},"transform":[{"filter":{"field":"k","oneOf":["3b"]}}],"mark":{"type":"text","angle":-3},"encoding":{"x":{"field":"x","type":"quantitative","axis":null},"y":{"field":"y","type":"quantitative","axis":null},"text":{"field":"t"}}},
{"data":{"name":"l"},"transform":[{"filter":{"field":"k","oneOf":["3c"]}}],"mark":{"type":"text","angle":-36},"encoding":{"x":{"field":"x","type":"quantitative","axis":null},"y":{"field":"y","type":"quantitative","axis":null},"text":{"field":"t"}}},
{"data":{"name":"l"},"transform":[{"filter":{"field":"k","oneOf":["3d"]}}],"mark":{"type":"text","angle":36},"encoding":{"x":{"field":"x","type":"quantitative","axis":null},"y":{"field":"y","type":"quantitative","axis":null},"text":{"field":"t"}}},
{"data":{"name":"l"},"transform":[{"filter":{"field":"k","oneOf":["3e"]}}],"mark":{"type":"text","angle":10},"encoding":{"x":{"field":"x","type":"quantitative","axis":null},"y":{"field":"y","type":"quantitative","axis":null},"text":{"field":"t"}}}
]}
]}
]
}
